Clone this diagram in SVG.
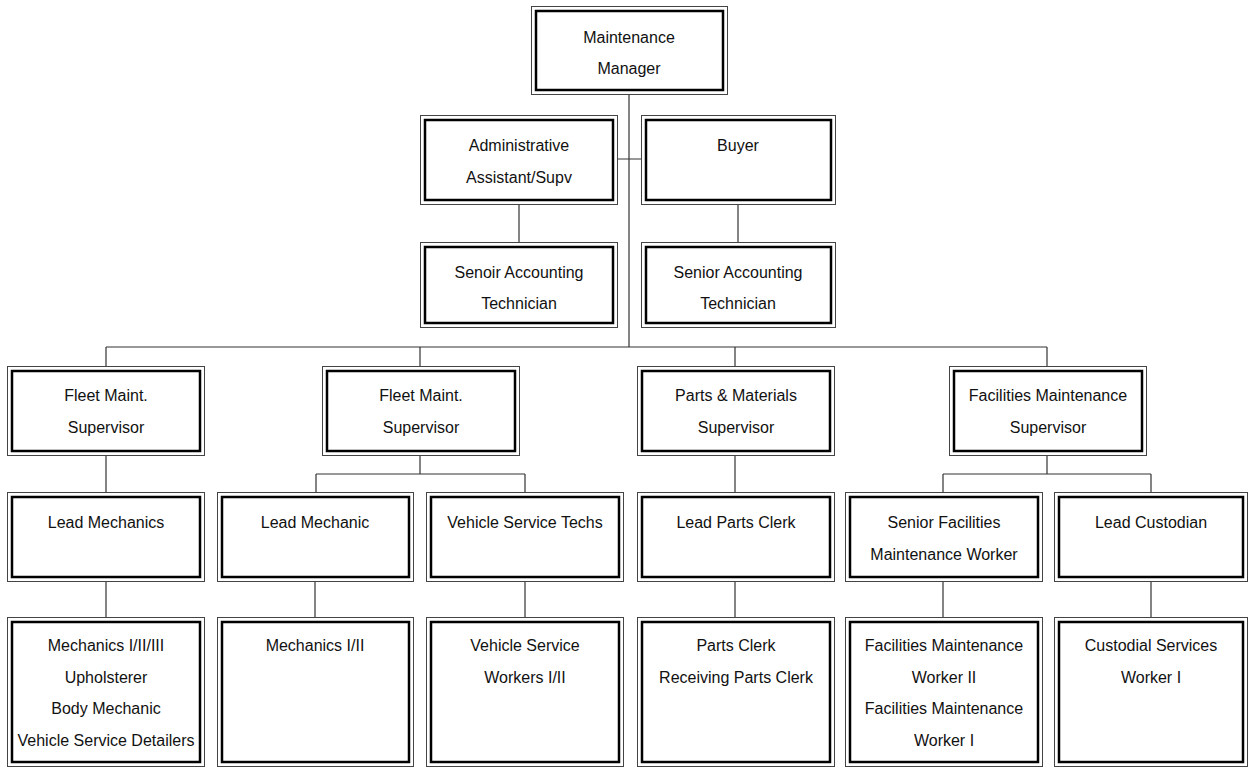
<svg xmlns="http://www.w3.org/2000/svg" width="1249" height="769" viewBox="0 0 1249 769">
<style>
.o{fill:#fff;stroke:#444;stroke-width:1}
.i{fill:none;stroke:#000;stroke-width:2.5}
.t{font-family:"Liberation Sans",Arial,sans-serif;font-size:16px;fill:#111;text-anchor:middle}
.c{stroke:#333;stroke-width:1.2;fill:none}
</style>
<rect width="1249" height="769" fill="#fff"/>
<g id="connectors">
<path class="c" d="M629,94V347M617,159H641M519,204V242M738,204V242"/>
<path class="c" d="M106,347H1047M106,347V366M420,347V366M735,347V366M1047,347V366"/>
<path class="c" d="M106,455V492M420,455V474M316,474H525M316,474V492M525,474V492M735,455V492M1047,455V474M943,474H1151M943,474V492M1151,474V492"/>
<path class="c" d="M106,581V617M315,581V617M525,581V617M735,581V617M943,581V617M1151,581V617"/>
</g>
<g id="mgr"><rect class="o" x="531.5" y="6.5" width="196" height="88"/><rect class="i" x="536" y="11" width="187" height="79"/><text class="t" x="629" y="43">Maintenance</text><text class="t" x="629" y="74">Manager</text></g>
<g id="admin"><rect class="o" x="420.5" y="115.5" width="197" height="89"/><rect class="i" x="425" y="120" width="188" height="80"/><text class="t" x="519" y="151">Administrative</text><text class="t" x="519" y="183">Assistant/Supv</text></g>
<g id="buyer"><rect class="o" x="641.5" y="115.5" width="194" height="89"/><rect class="i" x="646" y="120" width="185" height="80"/><text class="t" x="738" y="151">Buyer</text></g>
<g id="senoir"><rect class="o" x="420.5" y="242.5" width="197" height="85"/><rect class="i" x="425" y="247" width="188" height="76"/><text class="t" x="519" y="278">Senoir Accounting</text><text class="t" x="519" y="309">Technician</text></g>
<g id="senior"><rect class="o" x="641.5" y="242.5" width="194" height="85"/><rect class="i" x="646" y="247" width="185" height="76"/><text class="t" x="738" y="278">Senior Accounting</text><text class="t" x="738" y="309">Technician</text></g>
<g id="fleet1"><rect class="o" x="7.5" y="366.5" width="197" height="89"/><rect class="i" x="12" y="371" width="188" height="80"/><text class="t" x="106" y="401">Fleet Maint.</text><text class="t" x="106" y="433">Supervisor</text></g>
<g id="fleet2"><rect class="o" x="322.5" y="366.5" width="197" height="89"/><rect class="i" x="327" y="371" width="188" height="80"/><text class="t" x="421" y="401">Fleet Maint.</text><text class="t" x="421" y="433">Supervisor</text></g>
<g id="parts"><rect class="o" x="637.5" y="366.5" width="197" height="89"/><rect class="i" x="642" y="371" width="188" height="80"/><text class="t" x="736" y="401">Parts &amp; Materials</text><text class="t" x="736" y="433">Supervisor</text></g>
<g id="facil"><rect class="o" x="949.5" y="366.5" width="197" height="89"/><rect class="i" x="954" y="371" width="188" height="80"/><text class="t" x="1048" y="401">Facilities Maintenance</text><text class="t" x="1048" y="433">Supervisor</text></g>
<g id="leadMechanics"><rect class="o" x="7.5" y="492.5" width="197" height="89"/><rect class="i" x="12" y="497" width="188" height="80"/><text class="t" x="106" y="528">Lead Mechanics</text></g>
<g id="leadMechanic"><rect class="o" x="217.5" y="492.5" width="196" height="89"/><rect class="i" x="222" y="497" width="187" height="80"/><text class="t" x="315" y="528">Lead Mechanic</text></g>
<g id="vst"><rect class="o" x="426.5" y="492.5" width="197" height="89"/><rect class="i" x="431" y="497" width="188" height="80"/><text class="t" x="525" y="528">Vehicle Service Techs</text></g>
<g id="leadParts"><rect class="o" x="637.5" y="492.5" width="197" height="89"/><rect class="i" x="642" y="497" width="188" height="80"/><text class="t" x="736" y="528">Lead Parts Clerk</text></g>
<g id="seniorFac"><rect class="o" x="845.5" y="492.5" width="197" height="89"/><rect class="i" x="850" y="497" width="188" height="80"/><text class="t" x="944" y="528">Senior Facilities</text><text class="t" x="944" y="560">Maintenance Worker</text></g>
<g id="leadCust"><rect class="o" x="1054.5" y="492.5" width="193" height="89"/><rect class="i" x="1059" y="497" width="184" height="80"/><text class="t" x="1151" y="528">Lead Custodian</text></g>
<g id="mechanics3"><rect class="o" x="7.5" y="617.5" width="197" height="149"/><rect class="i" x="12" y="622" width="188" height="140"/><text class="t" x="106" y="651">Mechanics I/II/III</text><text class="t" x="106" y="683">Upholsterer</text><text class="t" x="106" y="714">Body Mechanic</text><text class="t" x="106" y="746">Vehicle Service Detailers</text></g>
<g id="mechanics2"><rect class="o" x="217.5" y="617.5" width="196" height="149"/><rect class="i" x="222" y="622" width="187" height="140"/><text class="t" x="315" y="651">Mechanics I/II</text></g>
<g id="vsw"><rect class="o" x="426.5" y="617.5" width="197" height="149"/><rect class="i" x="431" y="622" width="188" height="140"/><text class="t" x="525" y="651">Vehicle Service</text><text class="t" x="525" y="683">Workers I/II</text></g>
<g id="partsClerk"><rect class="o" x="637.5" y="617.5" width="197" height="149"/><rect class="i" x="642" y="622" width="188" height="140"/><text class="t" x="736" y="651">Parts Clerk</text><text class="t" x="736" y="683">Receiving Parts Clerk</text></g>
<g id="facWorkers"><rect class="o" x="845.5" y="617.5" width="197" height="149"/><rect class="i" x="850" y="622" width="188" height="140"/><text class="t" x="944" y="651">Facilities Maintenance</text><text class="t" x="944" y="683">Worker II</text><text class="t" x="944" y="714">Facilities Maintenance</text><text class="t" x="944" y="746">Worker I</text></g>
<g id="custodial"><rect class="o" x="1054.5" y="617.5" width="193" height="149"/><rect class="i" x="1059" y="622" width="184" height="140"/><text class="t" x="1151" y="651">Custodial Services</text><text class="t" x="1151" y="683">Worker I</text></g>
</svg>
